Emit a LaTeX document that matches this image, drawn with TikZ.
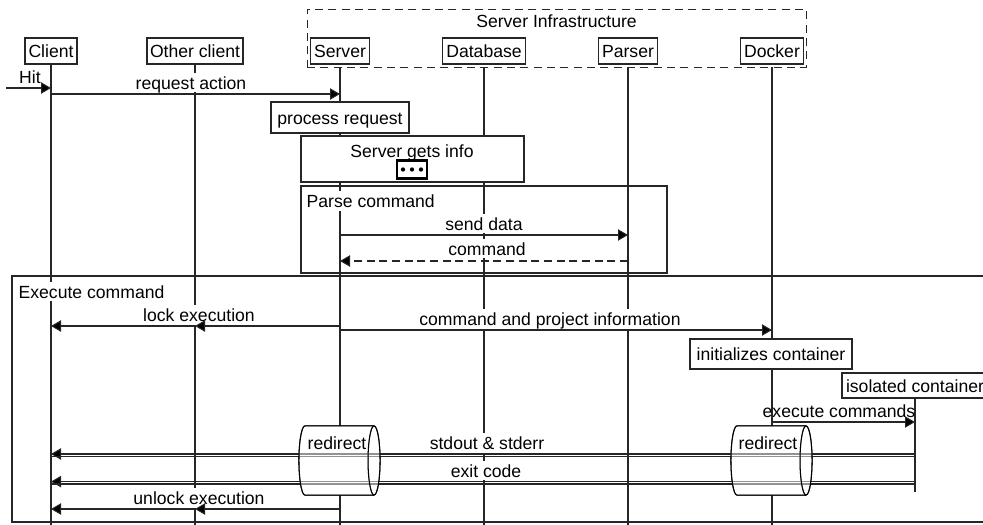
\documentclass[tikz,border=0pt]{standalone}
\usepackage{fontspec}
\setmainfont{Liberation Sans}
\usetikzlibrary{arrows.meta,calc}
\tikzset{
  x=0.75pt,y=-0.75pt,
  every node/.style={font=\fontsize{13.2pt}{15pt}\selectfont,inner sep=0pt,outer sep=0pt,text=black,text height=12pt,text depth=1.6pt},
  ln/.style={line width=0.78pt,draw=black!85},
  actor/.style={ln,fill=white,minimum height=19.5pt,anchor=center},
  note/.style={ln,fill=white},
  frame/.style={ln},
  life/.style={ln},
  msg/.style={ln,-{Triangle[length=7.5pt,width=8.5pt,fill=black]}},
  lbl/.style={fill=white,inner xsep=0.5pt,inner ysep=0.6pt},
  cylbox/.style={minimum width=60.8pt,minimum height=51.8pt,anchor=center},
  cylline/.style={line width=0.78pt,draw=black},
}
\newcommand\cylshape[2]{%
  \draw[cylline,#2] ($(#1.north west)+(6,0)$)
     arc[start angle=90,end angle=270,x radius=4.5pt,y radius=25.9pt]
     -- ($(#1.south east)+(-6,0)$)
     arc[start angle=270,end angle=450,x radius=4.5pt,y radius=25.9pt]
     -- cycle;
  \draw[cylline] ($(#1.north east)+(-6,0)$)
     arc[start angle=90,end angle=270,x radius=4.5pt,y radius=25.9pt];
}
\begin{document}
\begin{tikzpicture}
\clip (0,0) rectangle (983,525);
\useasboundingbox (0,0) rectangle (983,525);
\fill[white] (0,0) rectangle (983,525);

% lifeline heads and feet
\coordinate (footy) at (0,525);
\coordinate (c1) at (51,51);
\coordinate (c2) at (195,51);
\coordinate (c3) at (340,51);
\coordinate (c4) at (484,51);
\coordinate (c5) at (628,51);
\coordinate (c6) at (772,51);
\coordinate (c7) at (915,398);
\coordinate (c7end) at (915,492);

\draw[life] (c1) -- (c1 |- footy);
\draw[life] (c2) -- (c2 |- footy);
\draw[life] (c3) -- (c3 |- footy);
\draw[life] (c4) -- (c4 |- footy);
\draw[life] (c5) -- (c5 |- footy);
\draw[life] (c6) -- (c6 |- footy);
\draw[life] (c7) -- (c7end);

% infrastructure group
\node[draw=black!85,line width=0.75pt,dash pattern=on 6pt off 4pt,fill=white,minimum width=374.25pt,minimum height=43.5pt] (infra) at (556.5,38) {};
\node[lbl,fill=none] (infralabel) at (556.5,21) {Server Infrastructure};

% actors
\node[actor,minimum width=39pt] (client) at (c1) {Client};
\node[actor,minimum width=72pt] (other) at (c2) {Other client};
\node[actor,minimum width=44pt] (server) at (c3) {Server};
\node[actor,minimum width=62pt] (database) at (c4) {Database};
\node[actor,minimum width=44pt] (parser) at (c5) {Parser};
\node[actor,minimum width=47pt] (docker) at (c6) {Docker};

% message rows
\coordinate (hitstart) at (6,88);
\coordinate (yreq) at (0,94);
\coordinate (ysend) at (0,235);
\coordinate (ycmd) at (0,261);
\coordinate (ylock) at (0,326);
\coordinate (yproj) at (0,330);
\coordinate (yexec) at (0,422);
\coordinate (youtA) at (0,454);
\coordinate (youtB) at (0,456.7);
\coordinate (yexitA) at (0,481.6);
\coordinate (yexitB) at (0,484);
\coordinate (yunlock) at (0,509);

% frames
\node[frame,draw,minimum width=274.5pt,minimum height=65.25pt,anchor=north west] (parse) at (301,186) {};
\node[frame,draw,minimum width=760pt,minimum height=184.5pt,anchor=north west] (exec) at (12,276) {};

% redirect cylinders: white bodies
\node[cylbox] (redirA) at (339.5,460.5) {};
\node[cylbox] (redirB) at (771.5,460.5) {};
\cylshape{redirA}{fill=white}
\cylshape{redirB}{fill=white}

% notes
\node[note,draw,minimum width=103.5pt,minimum height=23.25pt] (process) at (340,117.5) {process request};
\node[note,draw,minimum width=121.5pt,minimum height=22.5pt] (init) at (771,354) {initializes container};
\node[note,draw,minimum width=109.5pt,minimum height=18.75pt] (iso) at (915,385.5) {isolated container};
\node[note,draw,minimum width=167.25pt,minimum height=34.5pt,anchor=north west] (gets) at (301,136) {};
\node[lbl,fill=none] (getslabel) at (412,150.5) {Server gets info};
\node[draw=black,line width=1.7pt,fill=white,minimum width=22.5pt,minimum height=11.5pt] (more) at (412,169.5) {};
\fill (more.center) circle[radius=1.6pt];
\fill ($(more.center)+(-9,0)$) circle[radius=1.6pt];
\fill ($(more.center)+(9,0)$) circle[radius=1.6pt];

% label backgrounds break the lifelines; arrows go on top
\node[lbl] (reql) at (191,82.5) {request action};
\node[lbl,anchor=west] (parsel) at (306,201) {Parse command};
\node[lbl] (sendl) at (484,223.5) {send data};
\node[lbl] (cmdl) at (487,248.5) {command};
\node[lbl,anchor=west] (execl) at (18,291.5) {Execute command};
\node[lbl] (lockl) at (199,315) {lock execution};
\node[lbl] (projl) at (550,319) {command and project information};
\node[lbl] (outl) at (487,443) {stdout \& stderr};
\node[lbl] (exitl) at (486,470.5) {exit code};
\node[lbl] (unlockl) at (199,498) {unlock execution};
\node[lbl,fill=none] (hitl) at (30,77) {Hit};
\node[lbl,fill=none] (execcl) at (839,411) {execute commands};

% messages
\draw[msg] (hitstart) -- (client.center |- hitstart);
\draw[msg] (client.center |- yreq) -- (server.center |- yreq);
\draw[msg] (server.center |- ysend) -- (parser.center |- ysend);
\draw[msg,dash pattern=on 6pt off 3.5pt] (parser.center |- ycmd) -- (server.center |- ycmd);
\draw[msg] (server.center |- ylock) -- (other.center |- ylock);
\draw[msg] (other.center |- ylock) -- (client.center |- ylock);
\draw[msg] (server.center |- yproj) -- (docker.center |- yproj);
\draw[msg] (docker.center |- yexec) -- (c7 |- yexec);
\draw[msg] (c7 |- youtA) -- (client.center |- youtA);
\draw[ln] (c7 |- youtB) -- (client.center |- youtB);
\draw[msg] (c7 |- yexitA) -- (client.center |- yexitA);
\draw[ln] (c7 |- yexitB) -- (client.center |- yexitB);
\draw[msg] (server.center |- yunlock) -- (other.center |- yunlock);
\draw[msg] (other.center |- yunlock) -- (client.center |- yunlock);

% redirect cylinders: veil and outline over the lines
\cylshape{redirA}{fill=white,fill opacity=0.5}
\cylshape{redirB}{fill=white,fill opacity=0.5}
\node[lbl,fill=none] (redirAl) at (337,443) {redirect};
\node[lbl,fill=none] (redirBl) at (768,443) {redirect};
\end{tikzpicture}
\end{document}
